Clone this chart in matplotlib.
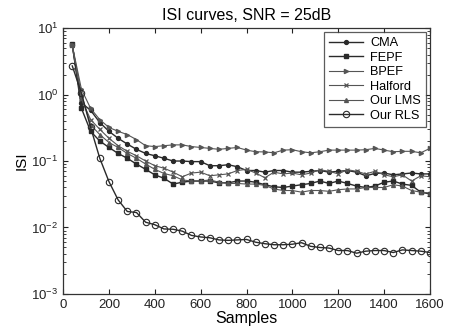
import numpy as np
import matplotlib
matplotlib.use('Agg')
import matplotlib.pyplot as plt

plt.rcParams['font.family'] = ['Liberation Sans', 'DejaVu Sans']

# sample index (every 40 samples)
samples = list(range(40, 1601, 40))

cma = [5.5, 0.75, 0.58, 0.38, 0.28, 0.22, 0.18, 0.15, 0.13, 0.12,
       0.11, 0.10, 0.10, 0.098, 0.098, 0.085, 0.085, 0.088, 0.082, 0.072,
       0.072, 0.068, 0.072, 0.072, 0.068, 0.068, 0.070, 0.072, 0.068, 0.070,
       0.072, 0.068, 0.060, 0.065, 0.066, 0.062, 0.064, 0.066, 0.064, 0.064]
fepf = [5.7, 0.62, 0.28, 0.20, 0.16, 0.13, 0.11, 0.09, 0.075, 0.062,
        0.055, 0.045, 0.048, 0.050, 0.050, 0.050, 0.047, 0.047, 0.050, 0.050,
        0.048, 0.044, 0.041, 0.040, 0.042, 0.044, 0.046, 0.050, 0.046, 0.050,
        0.046, 0.042, 0.040, 0.042, 0.048, 0.050, 0.045, 0.043, 0.034, 0.032]
bpef = [5.5, 1.2, 0.62, 0.42, 0.32, 0.28, 0.25, 0.21, 0.17, 0.165,
        0.17, 0.175, 0.175, 0.165, 0.16, 0.155, 0.15, 0.155, 0.16, 0.146,
        0.138, 0.137, 0.133, 0.146, 0.148, 0.138, 0.133, 0.138, 0.146, 0.146,
        0.146, 0.146, 0.148, 0.155, 0.146, 0.138, 0.140, 0.140, 0.133, 0.155]
halford = [5.5, 0.85, 0.42, 0.30, 0.22, 0.17, 0.14, 0.12, 0.10, 0.085,
           0.078, 0.068, 0.058, 0.066, 0.068, 0.060, 0.062, 0.064, 0.072, 0.075,
           0.066, 0.056, 0.068, 0.064, 0.066, 0.062, 0.066, 0.074, 0.070, 0.064,
           0.074, 0.070, 0.064, 0.070, 0.062, 0.058, 0.062, 0.050, 0.060, 0.058]
our_lms = [5.5, 1.0, 0.35, 0.25, 0.19, 0.16, 0.13, 0.11, 0.09, 0.075,
           0.065, 0.060, 0.052, 0.050, 0.050, 0.052, 0.048, 0.046, 0.046, 0.045,
           0.045, 0.043, 0.038, 0.036, 0.036, 0.034, 0.036, 0.036, 0.035, 0.037,
           0.038, 0.038, 0.040, 0.040, 0.040, 0.044, 0.042, 0.036, 0.034, 0.033]
our_rls = [2.7, 1.05, 0.32, 0.11, 0.049, 0.026, 0.0174, 0.0168, 0.012, 0.011,
           0.0095, 0.0094, 0.0088, 0.0076, 0.0072, 0.0070, 0.0065, 0.0064, 0.0065, 0.0066,
           0.0060, 0.0057, 0.0055, 0.0055, 0.0056, 0.0059, 0.0052, 0.0050, 0.0049, 0.0045,
           0.0045, 0.0041, 0.0044, 0.0045, 0.0045, 0.0042, 0.0046, 0.0045, 0.0044, 0.0042]

fig = plt.figure(figsize=(4.54, 3.31), dpi=100)
ax = fig.add_axes([0.139, 0.112, 0.808, 0.803])

dark = '#2a2a2a'
light = '#555555'
ax.plot(samples, cma, color=dark, lw=1.0, marker='o', ms=2.8, label='CMA')
ax.plot(samples, fepf, color=dark, lw=1.0, marker='s', ms=2.6, label='FEPF')
ax.plot(samples, bpef, color=light, lw=0.8, marker='>', ms=3.0, label='BPEF')
ax.plot(samples, halford, color=light, lw=0.8, marker='x', ms=3.0, mew=0.9, label='Halford')
ax.plot(samples, our_lms, color=light, lw=0.8, marker='^', ms=2.8, label='Our LMS')
ax.plot(samples, our_rls, color=dark, lw=1.0, marker='o', ms=4.6, mfc='none', mew=0.8, label='Our RLS')

ax.set_yscale('log')
ax.set_xlim(0, 1600)
ax.set_ylim(1e-3, 1e1)
ax.set_xticks(range(0, 1601, 200))
ax.tick_params(which='both', direction='in', top=True, right=True, labelsize=9.5, colors='#222222')
ax.tick_params(which='major', length=3.5)
ax.tick_params(which='minor', length=2)
for s in ax.spines.values():
    s.set_color('#333333')
    s.set_linewidth(0.9)

ax.set_title('ISI curves, SNR = 25dB', fontsize=11.5, pad=6)
ax.set_xlabel('Samples', fontsize=11.5, labelpad=0)
ax.set_ylabel('ISI', fontsize=11, labelpad=2)

leg = ax.legend(loc='upper right', fontsize=9.2, frameon=True, fancybox=False,
                edgecolor='#333333', borderaxespad=0.3, handlelength=2.6,
                labelspacing=0.2, borderpad=0.4, handletextpad=0.6)
leg.get_frame().set_linewidth(0.9)

fig.savefig('out.png', dpi=100)
